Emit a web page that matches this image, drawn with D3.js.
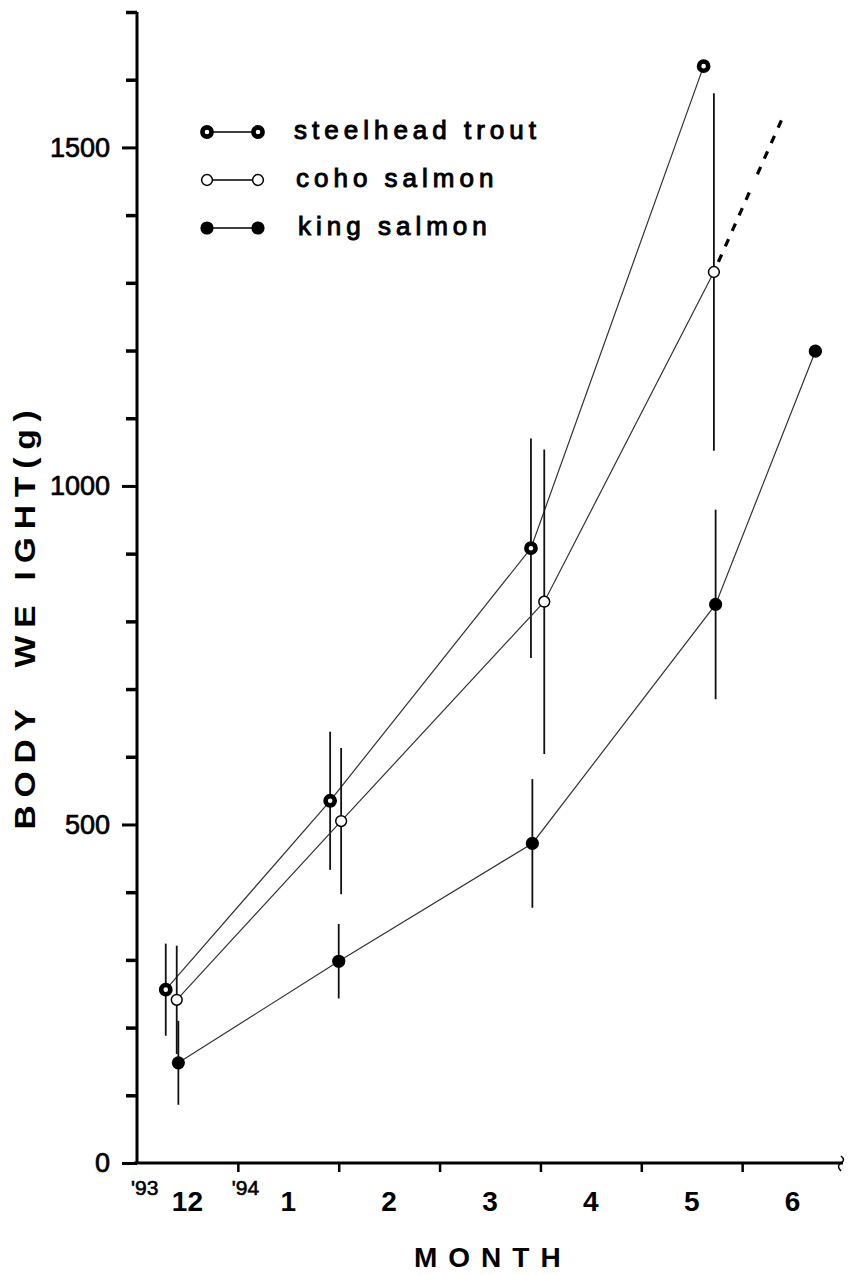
<!DOCTYPE html>
<html>
<head>
<meta charset="utf-8">
<script src="https://cdn.jsdelivr.net/npm/d3@7/dist/d3.min.js"></script>
<style>
  body { margin: 0; background: #fff; }
  text { font-family: "Liberation Sans", Arial, Helvetica, sans-serif; fill: #000; }
</style>
</head>
<body>
<svg id="chart" width="849" height="1275"></svg>
<script>
// x is counted in months from 1 Dec 1993
const monthLabels = ['12', '1', '2', '3', '4', '5', '6'];
const yearLabels = ["'93", "'94"];
const yMajor = [0, 500, 1000, 1500];
const yMinor = [100, 200, 300, 400, 600, 700, 800, 900, 1100, 1200, 1300, 1400, 1600, 1700];

const steelheadMonth = [0.285, 1.915, 3.906, 5.618];
const steelheadWeight = [256, 535, 908, 1620];
const steelheadSd = [68, 102, 162, null];

const cohoMonth = [0.394, 2.024, 4.038, 5.72];
const cohoWeight = [241, 505, 829, 1316];
const cohoSd = [80, 108, 225, 264];
// dashed extension drawn past the last coho point
const cohoExtMonth = [5.72, 6.41];
const cohoExtWeight = [1316, 1547];

const kingMonth = [0.41, 2.0, 3.92, 5.737, 6.726];
const kingWeight = [148, 298, 472, 825, 1199];
const kingSd = [62, 55, 95, 140, null];

const species = ['steelhead trout', 'coho salmon', 'king salmon'];

const svg = d3.select('#chart');
const margin = { left: 137, right: 7, top: 12, bottom: 112 };
const width = 849, height = 1275;

const x = d3.scaleLinear().domain([0, 7]).range([margin.left, width - margin.right + 1]);
const y = d3.scaleLinear().domain([0, 1700]).range([height - margin.bottom, margin.top]);

const toPoints = (ms, ws, sds) => ms.map((m, i) => ({ m: m, w: ws[i], sd: sds ? sds[i] : null }));
const series = [
  { name: species[0], type: 'thick', pts: toPoints(steelheadMonth, steelheadWeight, steelheadSd) },
  { name: species[1], type: 'open', pts: toPoints(cohoMonth, cohoWeight, cohoSd) },
  { name: species[2], type: 'filled', pts: toPoints(kingMonth, kingWeight, kingSd) }
];

// ---- y axis ----
// minor ticks every 100
svg.append('g')
  .attr('transform', `translate(${x(0)},0)`)
  .call(d3.axisLeft(y).tickValues(yMinor).tickSize(11).tickFormat(''))
  .call(g => g.select('.domain').remove())
  .call(g => g.selectAll('line').attr('stroke', '#000').attr('stroke-width', 3.5));

// major ticks + labels
svg.append('g')
  .attr('transform', `translate(${x(0)},0)`)
  .call(d3.axisLeft(y).tickValues(yMajor).tickSize(15).tickPadding(12).tickFormat(d3.format('d')))
  .call(g => g.select('.domain').remove())
  .call(g => g.selectAll('line').attr('stroke', '#000').attr('stroke-width', 3))
  .call(g => g.selectAll('text')
    .attr('font-family', null)
    .attr('font-size', 27)
    .attr('fill', '#000')
    .attr('stroke', '#000').attr('stroke-width', 0.7));

svg.append('line')
  .attr('x1', x(0)).attr('x2', x(0))
  .attr('y1', y(1700)).attr('y2', y(0))
  .attr('stroke', '#000').attr('stroke-width', 3);

// ---- x axis ----
svg.append('g')
  .attr('transform', `translate(0,${y(0)})`)
  .call(d3.axisBottom(x).tickValues(d3.range(1, 7)).tickSize(9).tickFormat(''))
  .call(g => g.select('.domain').remove())
  .call(g => g.selectAll('line').attr('stroke', '#000').attr('stroke-width', 2.5));

svg.append('line')
  .attr('x1', x(0) - 3).attr('x2', x(7))
  .attr('y1', y(0)).attr('y2', y(0))
  .attr('stroke', '#000').attr('stroke-width', 3);
// broken end of the x axis
svg.append('path')
  .attr('d', `M${x(7) - 2},${y(0) - 7} q5,4 0,7 q-5,3 0,8`)
  .attr('fill', 'none').attr('stroke', '#000').attr('stroke-width', 1.5);

svg.selectAll('.xlab').data(monthLabels)
  .enter().append('text')
  .attr('class', 'xlab')
  .attr('x', (d, i) => x(i + 0.5)).attr('y', 1211)
  .attr('text-anchor', 'middle')
  .attr('font-size', 28).attr('font-weight', 'bold')
  .text(d => d);
svg.selectAll('.yearlab').data(yearLabels)
  .enter().append('text')
  .attr('class', 'yearlab')
  .attr('x', (d, i) => x(i) - 6).attr('y', 1195)
  .attr('font-size', 21)
  .attr('stroke', '#000').attr('stroke-width', 0.6)
  .text(d => d);

svg.append('text')
  .attr('transform', 'translate(35,616) rotate(-90) scale(1.12,1)')
  .attr('text-anchor', 'middle')
  .attr('font-size', 30).attr('font-weight', 'bold')
  .attr('letter-spacing', 7)
  .style('white-space', 'pre')
  .text('BODY  WE IGHT(g)');

svg.append('text')
  .attr('x', 414).attr('y', 1267)
  .attr('font-size', 28).attr('font-weight', 'bold')
  .attr('letter-spacing', 11)
  .text('MONTH');

// ---- series ----
const line = d3.line().x(d => x(d.m)).y(d => y(d.w));
const plot = svg.append('g');

series.forEach(s => {
  // error bars (mean +/- SD)
  plot.selectAll(null).data(s.pts.filter(p => p.sd != null))
    .enter().append('line')
    .attr('x1', d => x(d.m)).attr('x2', d => x(d.m))
    .attr('y1', d => y(d.w - d.sd)).attr('y2', d => y(d.w + d.sd))
    .attr('stroke', '#111').attr('stroke-width', 1.8);
  plot.append('path')
    .datum(s.pts)
    .attr('d', line)
    .attr('fill', 'none')
    .attr('stroke', '#333').attr('stroke-width', 1.2);
});

plot.append('path')
  .datum(cohoExtMonth.map((m, i) => ({ m: m, w: cohoExtWeight[i] })))
  .attr('d', line)
  .attr('fill', 'none')
  .attr('stroke', '#000').attr('stroke-width', 3.2)
  .attr('stroke-dasharray', '0,11,8,9,8,9,8,9,8,9,8,9');

function marker(sel, type) {
  if (type === 'thick') {
    sel.attr('r', 4.6).attr('fill', '#fff').attr('stroke', '#000').attr('stroke-width', 4.6);
  } else if (type === 'open') {
    sel.attr('r', 5.4).attr('fill', '#fff').attr('stroke', '#000').attr('stroke-width', 1.5);
  } else {
    sel.attr('r', 6.6).attr('fill', '#000').attr('stroke', 'none');
  }
}

series.forEach(s => {
  plot.selectAll(null).data(s.pts)
    .enter().append('circle')
    .attr('cx', d => x(d.m)).attr('cy', d => y(d.w))
    .call(marker, s.type);
});

// ---- legend ----
const legend = svg.append('g');
series.forEach((s, i) => {
  const ly = 132 + i * 48;
  legend.append('line')
    .attr('x1', 207).attr('x2', 258).attr('y1', ly).attr('y2', ly)
    .attr('stroke', '#000').attr('stroke-width', 1.3);
  legend.selectAll(null).data([207, 258])
    .enter().append('circle')
    .attr('cx', d => d).attr('cy', ly)
    .call(marker, s.type);
  legend.append('text')
    .attr('x', 294 + i * 2).attr('y', ly + 7)
    .attr('font-size', 26)
    .attr('letter-spacing', 5)
    .attr('stroke', '#000').attr('stroke-width', 1.0)
    .text(s.name);
});
</script>
</body>
</html>
